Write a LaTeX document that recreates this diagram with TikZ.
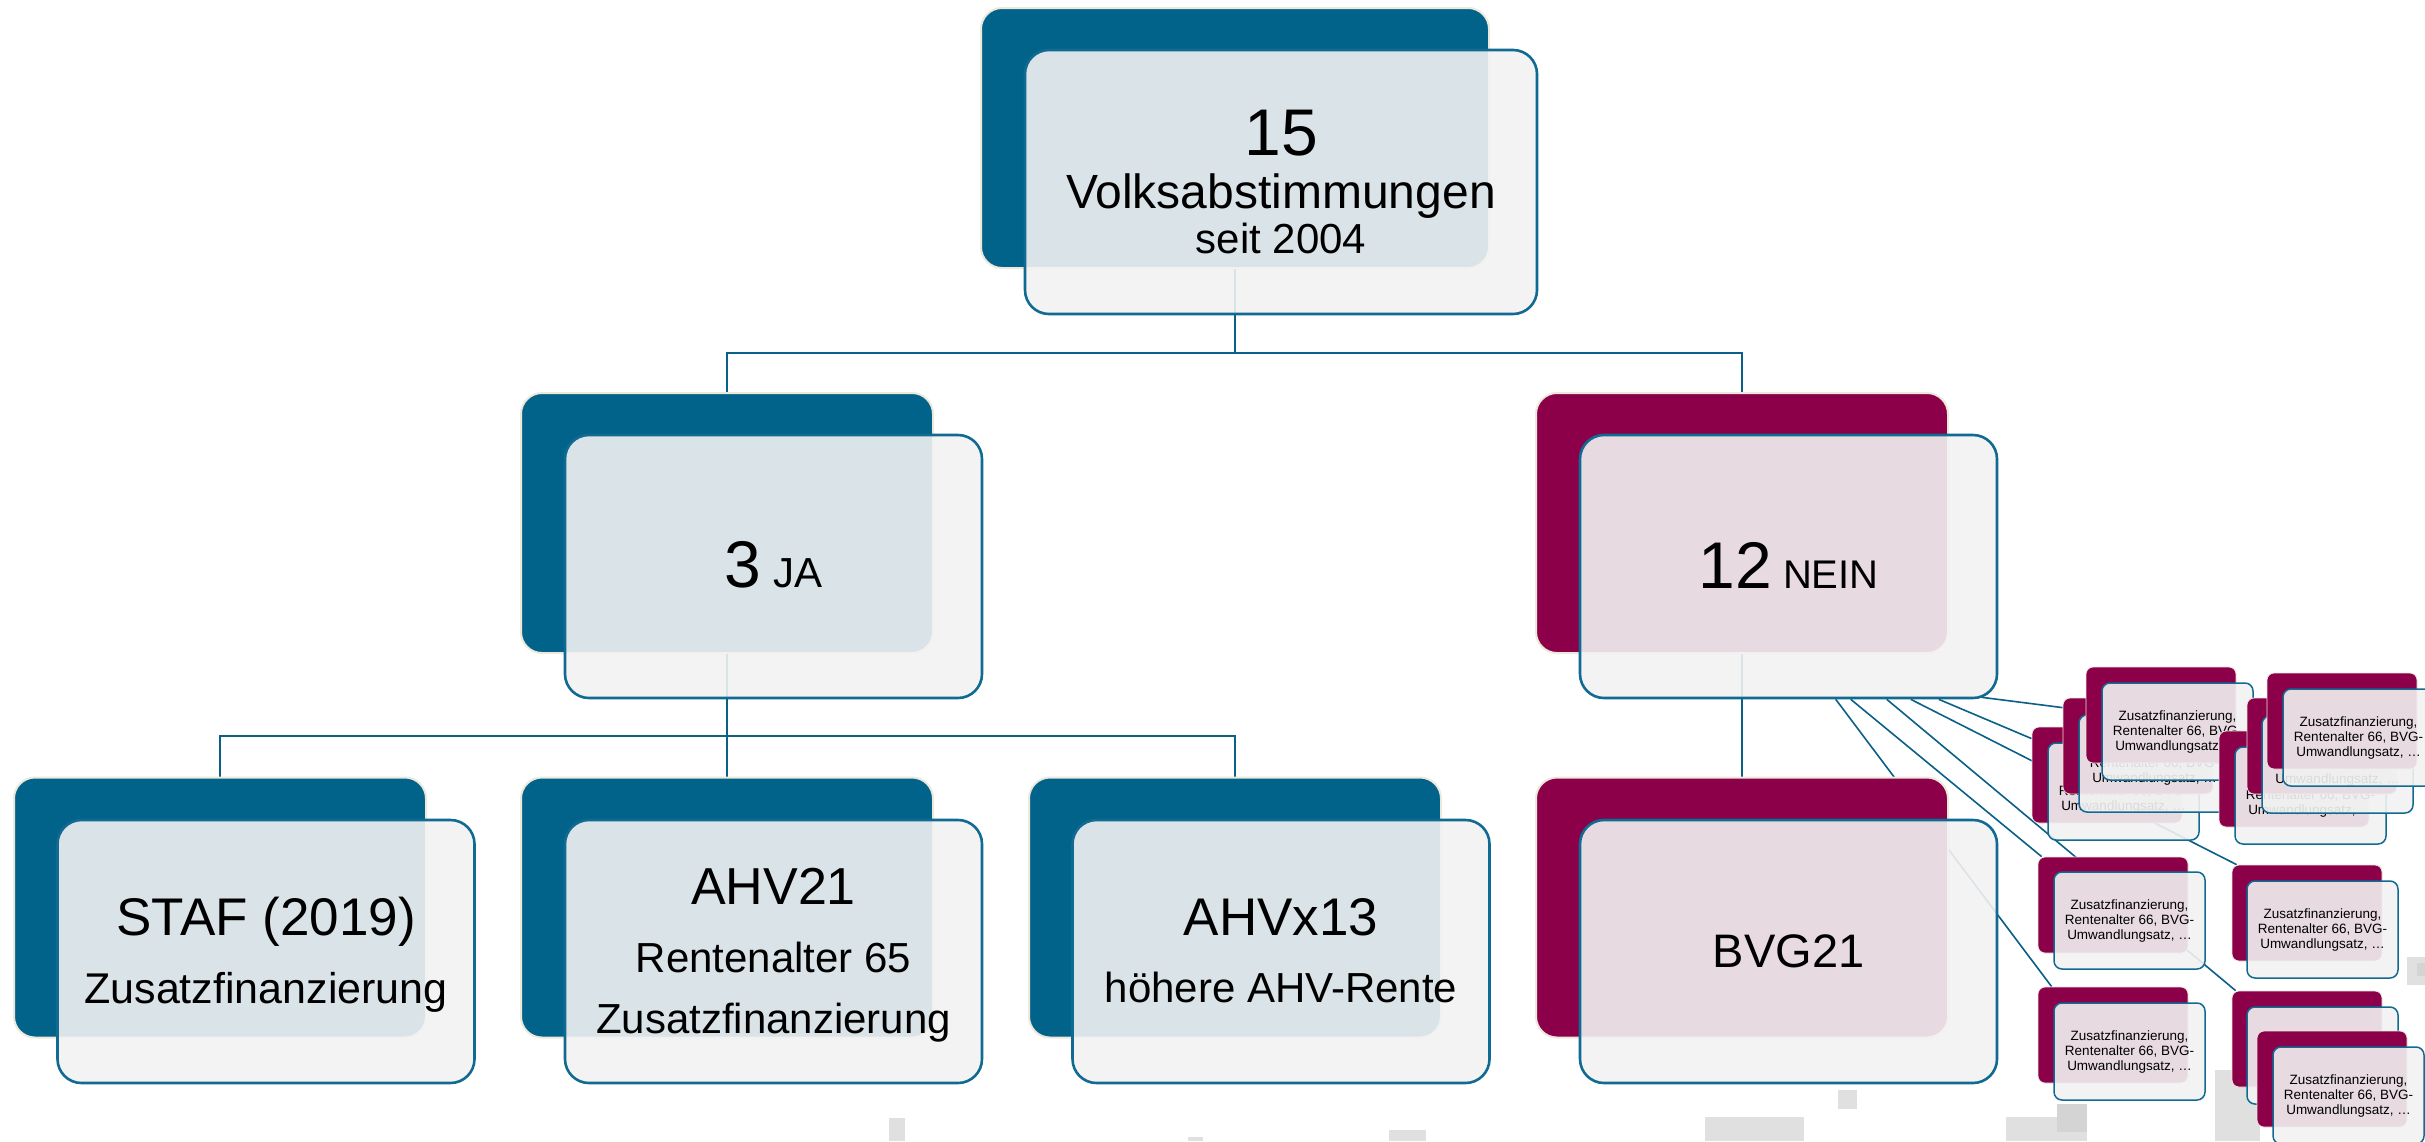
\documentclass[tikz,border=0pt]{standalone}
\usepackage{fontspec}
\setmainfont{Liberation Sans}
\usetikzlibrary{calc}
\definecolor{blueback}{RGB}{2,99,138}
\definecolor{magback}{RGB}{139,0,72}
\definecolor{frontfill}{RGB}{242,242,242}
\definecolor{frontline}{RGB}{16,106,145}
\definecolor{creamline}{RGB}{236,232,220}
\definecolor{connline}{RGB}{10,96,136}
\definecolor{bgsq}{RGB}{224,224,224}
\definecolor{bgsqd}{RGB}{212,212,212}
\pgfdeclarelayer{bg}
\pgfsetlayers{bg,main}
\newcommand\smalltxt{Zusatzfinanzierung,\\Rentenalter 66, BVG-\\Umwandlungsatz, …}
\tikzset{
 bigback/.style={rectangle, rounded corners=21pt, draw=creamline, line width=2pt, inner sep=0pt, minimum width=412pt, minimum height=260pt},
 jaback/.style={bigback, fill=blueback},
 neinback/.style={bigback, fill=magback},
 bigfront/.style={rectangle, rounded corners=24pt, draw=frontline, line width=2.6pt, fill=frontfill, fill opacity=0.9, draw opacity=1, inner sep=0pt, minimum width=417pt, minimum height=263pt},
 smallback/.style={rectangle, rounded corners=7pt, fill=magback, draw=creamline, line width=0.8pt, inner sep=0pt, minimum width=150pt, minimum height=96pt},
 smallfront/.style={rectangle, rounded corners=8pt, draw=frontline, line width=1.5pt, fill=frontfill, fill opacity=0.9, draw opacity=1, text opacity=1, inner sep=0pt, minimum width=151pt, minimum height=97pt, align=center, font=\fontsize{13.5}{15}\selectfont},
 conn/.style={draw=connline, line width=2.8pt},
 fan/.style={draw=connline, line width=1.6pt},
 lbl/.style={anchor=base, inner sep=0pt, text=black},
}
\begin{document}
\begin{tikzpicture}[x=1pt,y=-1pt]
\useasboundingbox (0,0) rectangle (2425,1141);

% ---------- level 1
\node[jaback, minimum width=508pt] (topb) at (1235,138) {};
\node[bigfront, minimum width=512pt, minimum height=264pt] (topf) at (1281,182) {};
\node[lbl, font=\fontsize{66}{66}\selectfont] (t15) at ([yshift=27pt]topf.center) {15};
\node[lbl, font=\fontsize{48}{48}\selectfont] (tvolk) at ([yshift=-26pt]topf.center) {Volksabstimmungen};
\node[lbl, font=\fontsize{42}{42}\selectfont] (tseit) at ([yshift=-71pt]topf.center) {seit 2004};

% ---------- level 2
\node[jaback] (jab) at (727,523) {};
\node[bigfront] (jaf) at (773.5,566.5) {};
\node[lbl] (tja) at ([yshift=-20.5pt]jaf.center) {{\fontsize{66}{66}\selectfont 3}{\fontsize{42}{42}\selectfont\ JA}};

\node[neinback] (nib) at (1742,523) {};
\node[bigfront] (nif) at (1788.5,566.5) {};
\node[lbl] (tnein) at ([yshift=-21.5pt]nif.center) {{\fontsize{66}{66}\selectfont 12}{\fontsize{40}{40}\selectfont\ NEIN}};

% ---------- level 3
\node[jaback] (stafb) at (220,907.5) {};
\node[bigfront] (staff) at (266,951.5) {};
\node[lbl, font=\fontsize{53}{53}\selectfont] (tstaf1) at ([yshift=16.5pt]staff.center) {STAF (2019)};
\node[lbl, font=\fontsize{43}{43}\selectfont] (tstaf2) at ([yshift=-51.5pt]staff.center) {Zusatzfinanzierung};

\node[jaback] (ahvb) at (727,907.5) {};
\node[bigfront] (ahvf) at (773.5,951.5) {};
\node[lbl, font=\fontsize{52}{52}\selectfont] (tahv1) at ([yshift=47.5pt]ahvf.center) {AHV21};
\node[lbl, font=\fontsize{42}{42}\selectfont] (tahv2) at ([yshift=-20.5pt]ahvf.center) {Rentenalter 65};
\node[lbl, font=\fontsize{42}{42}\selectfont] (tahv3) at ([yshift=-81.5pt]ahvf.center) {Zusatzfinanzierung};

\node[jaback] (ahvxb) at (1235,907.5) {};
\node[bigfront] (ahvxf) at (1281,951.5) {};
\node[lbl, font=\fontsize{53}{53}\selectfont] (tahvx1) at ([yshift=16.5pt]ahvxf.center) {AHVx13};
\node[lbl, font=\fontsize{42}{42}\selectfont] (tahvx2) at ([yshift=-50.5pt]ahvxf.center) {höhere AHV-Rente};

\node[neinback] (bvgb) at (1742,907.5) {};
\node[bigfront] (bvgf) at (1788.5,951.5) {};
\node[lbl, font=\fontsize{47}{47}\selectfont] (tbvg) at ([yshift=-15.5pt]bvgf.center) {BVG21};

% ---------- small NEIN boxes
\node[smallback] (a1b) at (2107,775) {};
\node[smallfront] (a1f) at (2123.5,791.5) {\smalltxt};
\node[smallback] (a2b) at (2138,746) {};
\node[smallfront] (a2f) at (2154.5,763.5) {\smalltxt};
\node[smallback] (a3b) at (2161,715) {};
\node[smallfront] (a3f) at (2177.5,731.5) {\smalltxt};

\node[smallback] (b1b) at (2294,779) {};
\node[smallfront] (b1f) at (2310.5,795.5) {\smalltxt};
\node[smallback] (b2b) at (2322,746) {};
\node[smallfront] (b2f) at (2337.5,764.5) {\smalltxt};
\node[smallback] (b3b) at (2342,721) {};
\node[smallfront] (b3f) at (2358.5,737.5) {\smalltxt};

\node[smallback] (c1b) at (2113,905) {};
\node[smallfront] (c1f) at (2129.5,920.5) {\smalltxt};
\node[smallback] (c2b) at (2307,913) {};
\node[smallfront] (c2f) at (2322.5,929.5) {\smalltxt};

\node[smallback] (d1b) at (2113,1035) {};
\node[smallfront] (d1f) at (2129.5,1051.5) {\smalltxt};
\node[smallback] (d2b) at (2307,1039) {};
\node[smallfront] (d2f) at (2322.5,1055.5) {\smalltxt};
\node[smallback] (d3b) at (2332,1079) {};
\node[smallfront] (d3f) at (2348.5,1095.5) {\smalltxt};

% ---------- background layer: page, squares, connectors
\begin{pgfonlayer}{bg}
\fill[white] (0,0) rectangle (2425,1141);
\fill[bgsq] (889,1118) rectangle (905,1141);
\fill[bgsq] (1188,1137) rectangle (1203,1141);
\fill[bgsq] (1389,1130) rectangle (1426,1141);
\fill[bgsq] (1838,1090) rectangle (1857,1109);
\fill[bgsq] (1705,1117) rectangle (1804,1141);
\fill[bgsq] (2006,1117) rectangle (2087,1141);
\fill[bgsqd] (2057,1104) rectangle (2087,1132);
\fill[bgsq] (2215,1070) rectangle (2260,1141);
\fill[bgsq] (2407,957) rectangle (2425,985);
\fill[bgsqd] (2417,963) rectangle (2425,976);

\coordinate (bar1) at (1235,353);
\coordinate (bar2) at (727,736);
\draw[conn] (topb.south) -- (topb.south |- bar1);
\draw[conn] (jab.north) |- (nib.north |- bar1) -- (nib.north);
\draw[conn] (jab.south) -- (jab.south |- bar2);
\draw[conn] (stafb.north) |- (ahvxb.north |- bar2) -- (ahvxb.north);
\draw[conn] (ahvb.north) -- (ahvb.north |- bar2);
\draw[conn] (nib.south) -- (bvgb.north);

\coordinate (s1) at ($(nif.south west)+(403,-2)$);
\coordinate (s2) at ($(nif.south west)+(360,0)$);
\coordinate (s3) at ($(nif.south west)+(332,0)$);
\coordinate (s4) at ($(nif.south west)+(308,0)$);
\coordinate (s5) at ($(nif.south west)+(272,0)$);
\coordinate (s6) at ($(nif.south west)+(257,0)$);
\draw[fan] (s1) -- ($(a2b.north west)+(0,10)$);
\draw[fan] (s2) -- ($(a1b.north west)+(0,12)$);
\draw[fan] (s3) -- ($(c2b.north west)+(5,0)$);
\draw[fan] (s4) -- ($(d2b.north west)+(4,0)$);
\draw[fan] (s5) -- ($(c1b.north west)+(4,0)$);
\draw[fan] (s6) -- ($(d1b.north west)+(14,0)$);
\end{pgfonlayer}
\end{tikzpicture}
\end{document}
